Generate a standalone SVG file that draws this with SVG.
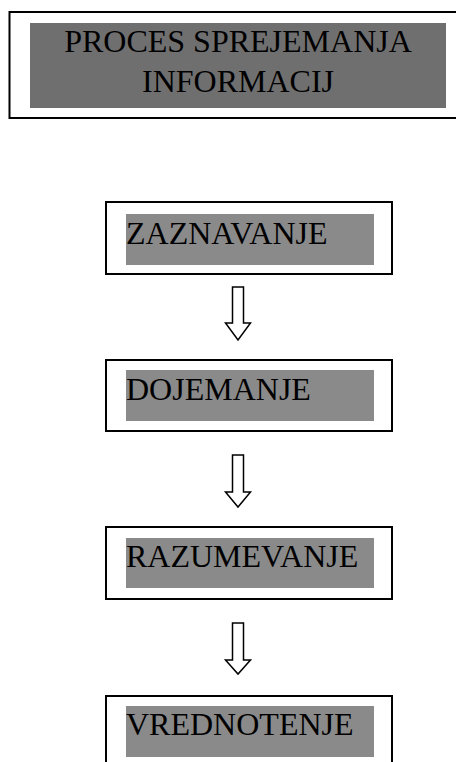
<svg xmlns="http://www.w3.org/2000/svg" width="456" height="762" viewBox="0 0 456 762">
<style>
.frame{fill:#fff;stroke:#000;stroke-width:2}
.band{fill:#8a8a8a}
.band-dark{fill:#6f6f6f}
.lbl{font-family:"Liberation Serif","Times New Roman",serif;font-size:32px;fill:#000}
.arrow{fill:#fff;stroke:#000;stroke-width:1.5;stroke-linejoin:miter}
</style>
<rect width="456" height="762" fill="#fff"/>
<g id="title">
<rect class="frame" x="9.5" y="12" width="460" height="106"/>
<rect class="band-dark" x="30" y="23" width="416" height="85"/>
<text class="lbl" x="238" y="52" text-anchor="middle">PROCES SPREJEMANJA</text>
<text class="lbl" x="238" y="92" text-anchor="middle">INFORMACIJ</text>
</g>
<g id="zaznavanje">
<rect class="frame" x="106" y="202" width="286" height="72"/>
<rect class="band" x="126" y="214" width="248" height="51"/>
<text class="lbl" x="126" y="244">ZAZNAVANJE</text>
</g>
<g id="dojemanje">
<rect class="frame" x="106" y="360" width="286" height="71"/>
<rect class="band" x="126" y="370" width="248" height="51"/>
<text class="lbl" x="126" y="400">DOJEMANJE</text>
</g>
<g id="razumevanje">
<rect class="frame" x="106" y="527" width="286" height="72"/>
<rect class="band" x="126" y="538" width="248" height="50"/>
<text class="lbl" x="126" y="567">RAZUMEVANJE</text>
</g>
<g id="vrednotenje">
<rect class="frame" x="106" y="696" width="286" height="80"/>
<rect class="band" x="126" y="706" width="248" height="51"/>
<text class="lbl" x="126" y="735">VREDNOTENJE</text>
</g>
<g id="connectors">
<path class="arrow" d="M232.5,287 H243.5 V323 H250.5 L238,340 L225.5,323 H232.5 Z"/>
<path class="arrow" d="M232.5,455 H243.5 V492 H250.5 L238,507 L225.5,492 H232.5 Z"/>
<path class="arrow" d="M232.5,623 H243.5 V660 H250.5 L238,674 L225.5,660 H232.5 Z"/>
</g>
</svg>
